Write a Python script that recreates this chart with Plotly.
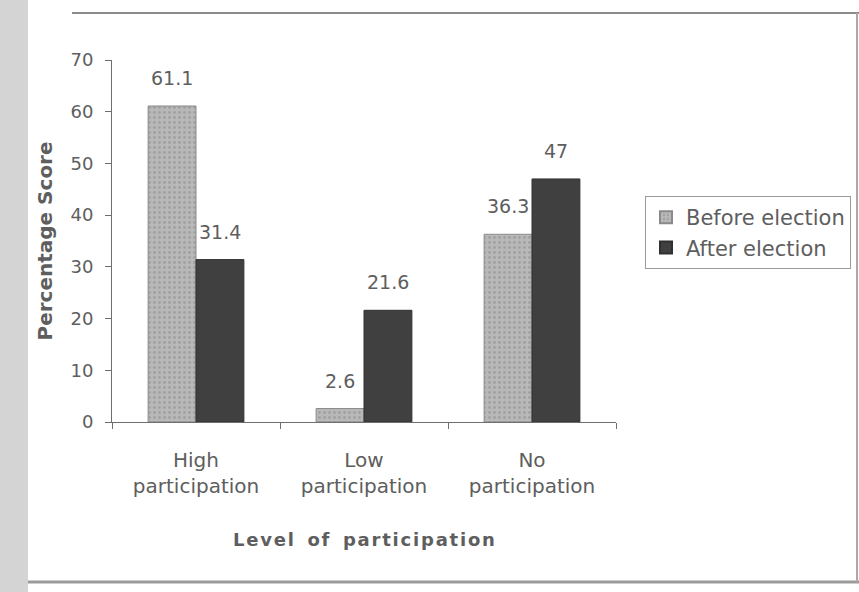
import plotly.graph_objects as go

categories = ["High<br>participation", "Low<br>participation", "No<br>participation"]
before_election = [61.1, 2.6, 36.3]
after_election = [31.4, 21.6, 47]
y_ticks = [0, 10, 20, 30, 40, 50, 60, 70]

FONT = "DejaVu Sans, Verdana, sans-serif"
TEXT = "#5e5e5e"

fig = go.Figure()
fig.add_trace(go.Bar(
    name="Before election", x=categories, y=before_election,
    marker=dict(color="#b0b0b0", line=dict(color="#8a8a8a", width=1),
                pattern=dict(shape=".", fgcolor="#888888", bgcolor="#b8b8b8", size=5, solidity=0.25)),
))
fig.add_trace(go.Bar(
    name="After election", x=categories, y=after_election,
    marker=dict(color="#404040", line=dict(color="#303030", width=1)),
))

# value labels above each bar
for series, offset in ((before_election, -0.143), (after_election, 0.143)):
    for i, v in enumerate(series):
        fig.add_annotation(
            x=i + offset, y=v, text=f"{v:g}", showarrow=False, yshift=28,
            font=dict(family=FONT, size=19, color=TEXT), xref="x", yref="y",
        )

# letter-spaced axis title
x_title = "\u200a".join("Level of participation").replace("\u200a \u200a", "\u2009 \u2009")

fig.update_layout(
    width=859, height=592,
    margin=dict(l=112, r=243, t=60, b=170),
    paper_bgcolor="white", plot_bgcolor="white",
    barmode="group", bargap=0.43, bargroupgap=0,
    font=dict(family=FONT, color=TEXT, size=18),
    showlegend=True,
    legend=dict(xref="container", yref="container",
                x=645 / 859, y=1 - 196 / 592, xanchor="left", yanchor="top",
                bordercolor="#9a9a9a", borderwidth=1,
                font=dict(family=FONT, size=21, color=TEXT),
                itemsizing="constant", itemwidth=30, tracegroupgap=10),
)
fig.update_xaxes(
    showline=True, linecolor="#6e6e6e", linewidth=1,
    ticks="outside", tickson="boundaries", ticklen=6, tickcolor="#6e6e6e",
    ticklabelstandoff=20, automargin=False,
    tickfont=dict(family=FONT, size=20, color=TEXT),
    title=dict(text=f"<b>{x_title}</b>",
               font=dict(family=FONT, size=18, color=TEXT), standoff=36),
)
fig.update_yaxes(
    range=[0, 70], tickvals=y_ticks, showgrid=False, zeroline=False,
    showline=True, linecolor="#6e6e6e", linewidth=1, automargin=False,
    ticks="outside", ticklen=6, tickcolor="#6e6e6e", ticklabelstandoff=8,
    tickfont=dict(family=FONT, size=18, color=TEXT),
    title=dict(text="<b>Percentage Score</b>",
               font=dict(family=FONT, size=20, color=TEXT), standoff=12),
)

# scanned page framing: grey left margin strip and outer chart border
fig.add_shape(type="rect", xref="paper", yref="paper", x0=-112/504, x1=-84/504,
              y0=-170/362, y1=1 + 60/362, fillcolor="#d4d4d4", line_width=0, layer="below")
fig.add_shape(type="line", xref="paper", yref="paper", x0=-40/504, x1=1 + 243/504,
              y0=1 + 47/362, y1=1 + 47/362, line=dict(color="#8a8a8a", width=2))
fig.add_shape(type="line", xref="paper", yref="paper", x0=-84/504, x1=1 + 243/504,
              y0=-160/362, y1=-160/362, line=dict(color="#9a9a9a", width=3))
fig.add_shape(type="line", xref="paper", yref="paper", x0=1 + 241/504, x1=1 + 241/504,
              y0=-160/362, y1=1 + 47/362, line=dict(color="#aaaaaa", width=2))

fig.write_html("out.html")
